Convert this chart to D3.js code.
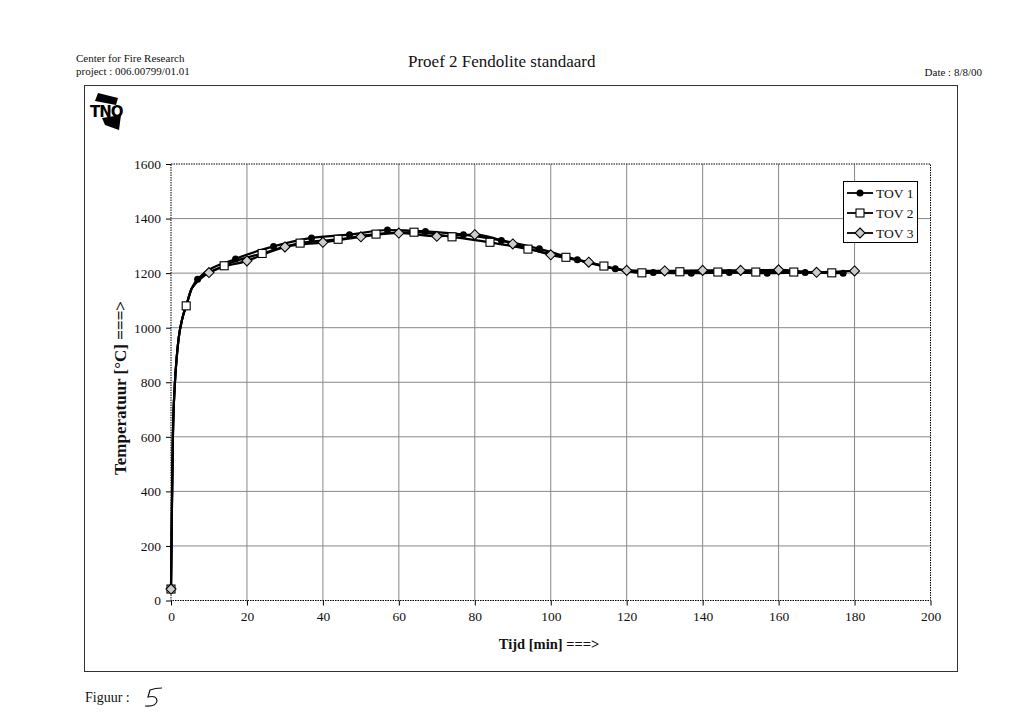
<!DOCTYPE html>
<html><head><meta charset="utf-8">
<script src="https://cdn.jsdelivr.net/npm/d3@7/dist/d3.min.js"></script>
<style>body{margin:0;background:#fff}svg{display:block}text{fill:#111}</style>
</head><body>
<script>
// ---- data ----
const xTicks = [0,20,40,60,80,100,120,140,160,180,200];
const yTicks = [0,200,400,600,800,1000,1200,1400,1600];
const seriesNames = ["TOV 1","TOV 2","TOV 3"];
// initial rise (shared, unmarked points)
const riseT = [0.25,0.5,1,1.5,2,3,4,5.5];
const riseV = [350,600,790,890,960,1035,1080,1145];
// TOV 1 (filled circles)
const tov1T = [0,7,17,27,37,47,57,67,77,87,97,107,117,127,137,147,157,167,177];
const tov1V = [42,1178,1252,1298,1329,1341,1358,1353,1341,1320,1289,1249,1216,1202,1200,1202,1200,1202,1200];
// TOV 2 (open squares)
const tov2T = [0,4,14,24,34,44,54,64,74,84,94,104,114,124,134,144,154,164,174];
const tov2V = [42,1080,1227,1272,1310,1324,1343,1350,1333,1313,1288,1258,1226,1201,1205,1204,1204,1204,1201];
// TOV 3 (diamonds)
const tov3T = [0,10,20,30,40,50,60,70,80,90,100,110,120,130,140,150,160,170,180];
const tov3V = [42,1202,1245,1296,1313,1333,1347,1335,1341,1307,1267,1240,1210,1208,1210,1210,1212,1203,1208];

const SERIF="Liberation Serif, DejaVu Serif, serif";
const W=1024,H=726;
const svg=d3.select("body").append("svg").attr("width",W).attr("height",H).attr("font-family",SERIF);
const x=d3.scaleLinear().domain([0,200]).range([171,930.5]);
const y=d3.scaleLinear().domain([0,1600]).range([600.5,164]);

// header
svg.append("text").attr("x",76).attr("y",62).attr("font-size",11).text("Center for Fire Research");
svg.append("text").attr("x",76).attr("y",75).attr("font-size",11).text("project : 006.00799/01.01");
svg.append("text").attr("x",408).attr("y",67).attr("font-size",17).text("Proef 2 Fendolite standaard");
svg.append("text").attr("x",982).attr("y",76).attr("font-size",11).attr("text-anchor","end").text("Date : 8/8/00");

// frame
svg.append("rect").attr("x",84.5).attr("y",85.5).attr("width",873).attr("height",586).attr("fill","none").attr("stroke","#333").attr("stroke-width",1);

// TNO logo
const logo=svg.append("g");
logo.append("path").attr("d","M98,93 L118,98 L116,105 L95,101 Z").attr("fill","#000");
logo.append("text").attr("x",90).attr("y",117).attr("font-size",15).attr("font-weight","bold")
 .attr("font-family","DejaVu Sans, Liberation Sans, sans-serif").style("fill","#000").attr("letter-spacing",-1).text("TNO");
logo.append("path").attr("d","M102,118 L121,115 L119,130 L105,125 Z").attr("fill","#000");

// grid
const g=svg.append("g");
g.selectAll(".vg").data(xTicks.filter(d=>d>0&&d<200)).enter().append("line")
 .attr("x1",d=>x(d)).attr("x2",d=>x(d)).attr("y1",y(1600)).attr("y2",y(0)).attr("stroke","#888").attr("stroke-width",1);
g.selectAll(".hg").data(yTicks.filter(d=>d>0&&d<1600)).enter().append("line")
 .attr("x1",x(0)).attr("x2",x(200)).attr("y1",d=>y(d)).attr("y2",d=>y(d)).attr("stroke","#888").attr("stroke-width",1);
// plot border dotted
g.append("rect").attr("x",x(0)).attr("y",y(1600)).attr("width",x(200)-x(0)).attr("height",y(0)-y(1600))
 .attr("fill","none").attr("stroke","#000").attr("stroke-width",1).attr("stroke-dasharray","1.5,1");

// axes
const xa=svg.append("g").attr("transform",`translate(0,${y(0)})`)
 .call(d3.axisBottom(x).tickValues(xTicks).tickFormat(d3.format("d")).tickSize(5).tickPadding(6));
const ya=svg.append("g").attr("transform",`translate(${x(0)},0)`)
 .call(d3.axisLeft(y).tickValues(yTicks).tickFormat(d3.format("d")).tickSize(5).tickPadding(5));
[xa,ya].forEach(a=>{a.select(".domain").remove();a.selectAll("line").attr("stroke","#000");
 a.attr("font-size",13.5).attr("font-family",SERIF);
 a.selectAll("text").style("fill","#111");});

svg.append("text").attr("x",549).attr("y",649).attr("font-size",14.5).attr("font-weight","bold").attr("text-anchor","middle").text("Tijd [min] ===>");
svg.append("text").attr("transform","translate(126,388) rotate(-90)").attr("font-size",17).attr("font-weight","bold").attr("text-anchor","middle").text("Temperatuur [°C] ===>");

// series
function build(T,V){
  const pts=T.map((t,i)=>({t,v:V[i],m:true}));
  riseT.forEach((t,i)=>{ if(!T.includes(t)) pts.push({t,v:riseV[i],m:false}); });
  pts.sort((a,b)=>a.t-b.t);
  return pts;
}
const series=[build(tov1T,tov1V),build(tov2T,tov2V),build(tov3T,tov3V)];
const line=d3.line().x(d=>x(d.t)).y(d=>y(d.v)).curve(d3.curveMonotoneX);
series.forEach(s=>svg.append("path").attr("d",line(s)).attr("fill","none").attr("stroke","#000").attr("stroke-width",2.2));

function marker(sel,type,cx,cy){
  if(type===0) sel.append("circle").attr("cx",cx).attr("cy",cy).attr("r",3.5).attr("fill","#000");
  else if(type===1) sel.append("rect").attr("x",cx-4).attr("y",cy-4).attr("width",8).attr("height",8).attr("fill","#fff").attr("stroke","#000").attr("stroke-width",1.1);
  else sel.append("path").attr("d",`M${cx},${cy-5}L${cx+5},${cy}L${cx},${cy+5}L${cx-5},${cy}Z`).attr("fill","#ccc").attr("stroke","#000").attr("stroke-width",1.1);
}
const mg=svg.append("g");
series.forEach((s,k)=>s.filter(d=>d.m).forEach(d=>marker(mg,k,x(d.t),y(d.v))));

// legend
const lg=svg.append("g");
lg.append("rect").attr("x",843.5).attr("y",181.5).attr("width",74).attr("height",61).attr("fill","#fff").attr("stroke","#000").attr("stroke-width",1);
seriesNames.forEach((n,k)=>{
  const cy=193+k*20;
  lg.append("line").attr("x1",847).attr("x2",873).attr("y1",cy).attr("y2",cy).attr("stroke","#000").attr("stroke-width",1.8);
  marker(lg,k,860,cy);
  lg.append("text").attr("x",876).attr("y",cy+4.5).attr("font-size",13.5).text(n);
});

// footer
svg.append("text").attr("x",85).attr("y",702).attr("font-size",14).text("Figuur :");
svg.append("path").attr("d","M162,688 Q155,688 150,690 L148,697 Q157,695 157,701 Q156,707 145,706")
 .attr("fill","none").attr("stroke","#111").attr("stroke-width",1.2);
</script>
</body></html>
